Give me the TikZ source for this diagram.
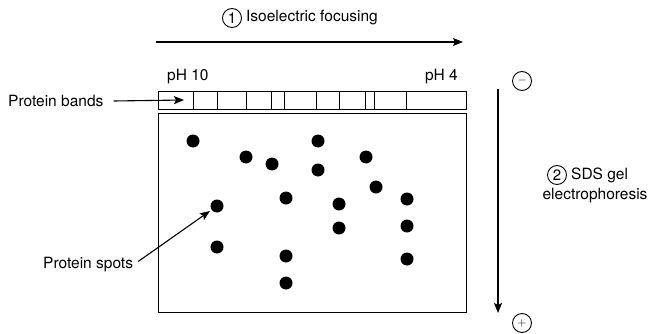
\documentclass[tikz,border=0pt]{standalone}
\usepackage{fontspec}
\setmainfont{TeX Gyre Heros}
\usepackage{tikz}
\usetikzlibrary{positioning,arrows.meta,calc}

\begin{document}
\begin{tikzpicture}[
  x=1pt, y=-1pt,
  lbl/.style={inner sep=0pt, font=\fontsize{15.5}{19}\selectfont},
  num/.style={circle, draw, line width=0.9pt, inner sep=0pt, minimum size=19pt, font=\fontsize{15}{15}\selectfont},
  pole/.style={circle, draw, line width=0.9pt, inner sep=0pt, minimum size=19pt, font=\fontsize{12}{12}\selectfont},
  spot/.style={circle, fill=black, inner sep=0pt, minimum size=13pt},
  gel/.style={draw, line width=1.1pt, inner sep=0pt, anchor=north west},
  arr/.style={-{Stealth[length=10pt, width=8pt, inset=2pt]}, line width=1.1pt}
]
  \useasboundingbox (0,0) rectangle (652,334);

  \node[num] (n1) at (232,18) {1};
  \node[lbl, anchor=west, right=4pt of n1] (ief) {Isoelectric focusing};
  \coordinate (iefa) at (156,42);
  \coordinate (iefb) at (463,42);
  \draw[arr] (iefa) -- (iefb);

  \node[lbl, anchor=west] (ph10) at (167,77) {pH 10};
  \node[lbl, anchor=east] (ph4) at (458,77) {pH 4};
  \node[gel, minimum width=308pt, minimum height=18pt] (strip) at (158,91) {};
  \foreach \x in {193,217,246,271,284,316,339,365,374,406}
    \draw[line width=1pt] (\x,91) -- (\x,109);
  \node[gel, minimum width=308pt, minimum height=199pt] (slab) at (158,113) {};

  \foreach \x/\y [count=\i] in {193/141, 246/157, 272/164, 318/141, 318/170, 366/157,
      376/187, 217/206, 286/198, 339/204, 407/199, 339/228, 407/226, 217/247,
      286/256, 407/259, 286/283}
    \node[spot] (s\i) at (\x,\y) {};

  \node[lbl, anchor=west] (bands) at (8,101) {Protein bands};
  \coordinate (bandtip) at (184,100);
  \draw[arr] ($(bands.east)+(10pt,0)$) -- (bandtip);

  \node[lbl, anchor=west] (spots) at (43,265) {Protein spots};
  \draw[arr, shorten >=2pt] ($(spots.north east)+(5pt,-4pt)$) -- (s8);

  \coordinate (sdsa) at (498,89);
  \coordinate (sdsb) at (498,313);
  \draw[arr] (sdsa) -- (sdsb);
  \node[pole] (minus) at (522,81) {$-$};
  \node[pole] (plus) at (522,323) {$+$};

  \node[num] (n2) at (557,175) {2};
  \node[lbl, anchor=west, right=4pt of n2] (sds) {SDS gel};
  \node[lbl] (ep) at (595,196) {electrophoresis};
\end{tikzpicture}
\end{document}
